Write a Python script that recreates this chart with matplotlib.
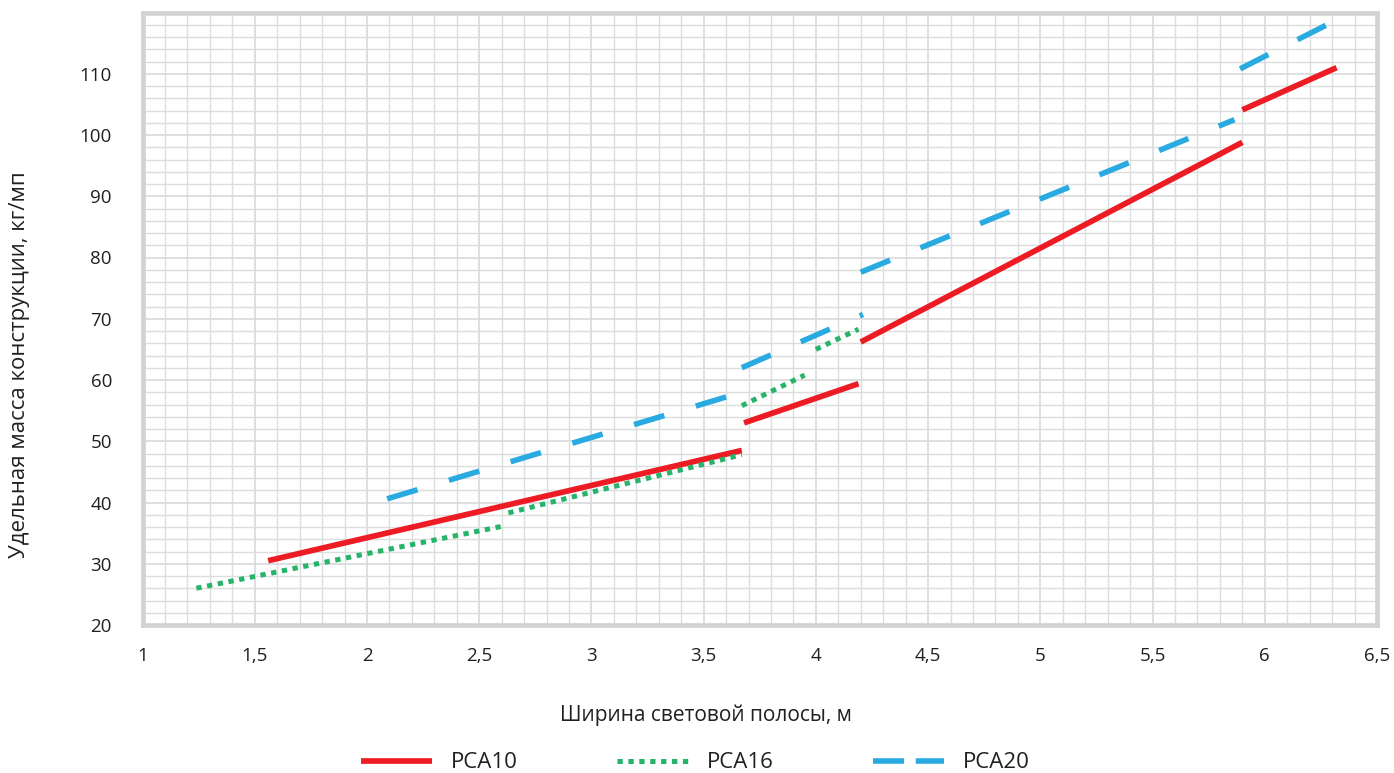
# coding=utf-8
# filename: plot.py

"""
Удельная масса конструкции vs ширина световой полосы (PCA10 / PCA16 / PCA20).
Each series is made of separate straight segments, drawn one by one so the
dash pattern restarts at every segment like in the source picture.
"""
import matplotlib
matplotlib.use("Agg")
import matplotlib.pyplot as plt
from matplotlib.lines import Line2D
from matplotlib.ticker import MultipleLocator, FuncFormatter


# ---- data (segment end points) ----
names = ["PCA10", "PCA16", "PCA20"]

pca10_x = [[1.56, 3.67], [3.68, 4.19], [4.20, 5.90], [5.90, 6.32]]
pca10_y = [[30.5, 48.5], [53.0, 59.4], [66.2, 98.8], [104.1, 111.0]]

pca16_x = [[1.24, 2.60], [2.63, 3.67], [3.67, 3.95], [4.00, 4.19]]
pca16_y = [[26.0, 36.1], [38.3, 47.8], [55.8, 60.8], [65.0, 68.3]]

pca20_x = [[2.09, 3.67], [3.67, 4.21], [4.20, 5.865], [5.89, 6.32]]
pca20_y = [[40.6, 58.0], [62.0, 70.7], [77.6, 102.5], [110.8, 118.8]]

x_label = "Ширина световой полосы, м"
y_label = "Удельная масса конструкции, кг/мп"


def comma_fmt(value, pos):
    if abs(value - round(value)) < 1e-9:
        return "%d" % round(value)
    return ("%g" % value).replace(".", ",")


def main():
    plt.rcParams["font.family"] = ["Open Sans", "DejaVu Sans"]
    text_col = "#231f20"
    frame_col = "#d1d3d4"

    W, H = 1394.0, 773.0
    fig = plt.figure(figsize=(W / 100, H / 100), dpi=100)
    left, right, top, bottom = 142.5, 1377.0, 12.5, 625.0
    ax = fig.add_axes([left / W, 1 - bottom / H, (right - left) / W,
                       (bottom - top) / H])

    styles = [
        dict(color="#ed1c24", lw=4.1, solid_capstyle="butt"),
        dict(color="#27b36a", lw=3.6, dashes=(1.06, 1.12),
             dash_capstyle="butt"),
        dict(color="#29abe2", lw=4.0, dashes=(5.7, 5.9),
             dash_capstyle="butt"),
    ]
    all_x = [pca10_x, pca16_x, pca20_x]
    all_y = [pca10_y, pca16_y, pca20_y]
    for xs, ys, st in zip(all_x, all_y, styles):
        for sx, sy in zip(xs, ys):
            ax.plot(sx, sy, zorder=3, **st)

    ax.set_xlim(1, 6.5)
    ax.set_ylim(20, 120)
    ax.xaxis.set_major_locator(MultipleLocator(0.5))
    ax.xaxis.set_minor_locator(MultipleLocator(0.1))
    ax.set_yticks([20, 30, 40, 50, 60, 70, 80, 90, 100, 110])
    ax.yaxis.set_minor_locator(MultipleLocator(2))
    ax.xaxis.set_major_formatter(FuncFormatter(comma_fmt))

    ax.grid(which="minor", color="#dcdddd", lw=1.0)
    ax.grid(which="major", color="#d8d9da", lw=1.2)
    ax.set_axisbelow(True)
    ax.tick_params(which="both", length=0)
    ax.tick_params(axis="x", pad=16, labelsize=13.5, labelcolor=text_col)
    ax.tick_params(axis="y", pad=22, labelsize=13.5, labelcolor=text_col)

    for sp in ax.spines.values():
        sp.set_color(frame_col)
        sp.set_linewidth(3.4)

    fig.text(706 / W, 1 - 721 / H, x_label, ha="center", va="baseline",
             fontsize=15, color=text_col)
    fig.text(19.5 / W, 1 - 365 / H, y_label, ha="center", va="center",
             rotation=90, fontsize=16, color=text_col)

    handles = [
        Line2D([], [], color="#ed1c24", lw=4.1, solid_capstyle="butt"),
        Line2D([], [], color="#27b36a", lw=3.6, dashes=(1.06, 1.12),
               dash_capstyle="butt"),
        Line2D([], [], color="#29abe2", lw=4.0, dashes=(5.6, 2.1),
               dash_capstyle="butt"),
    ]
    leg = fig.legend(handles, names, loc="center",
                     bbox_to_anchor=(695.5 / W, 1 - 763 / H),
                     ncol=3, frameon=False, fontsize=16,
                     handlelength=3.2, handletextpad=0.85,
                     columnspacing=4.45, borderaxespad=0, borderpad=0)
    for t in leg.get_texts():
        t.set_color(text_col)

    fig.savefig("out.png", dpi=100)


if __name__ == '__main__':
    main()
